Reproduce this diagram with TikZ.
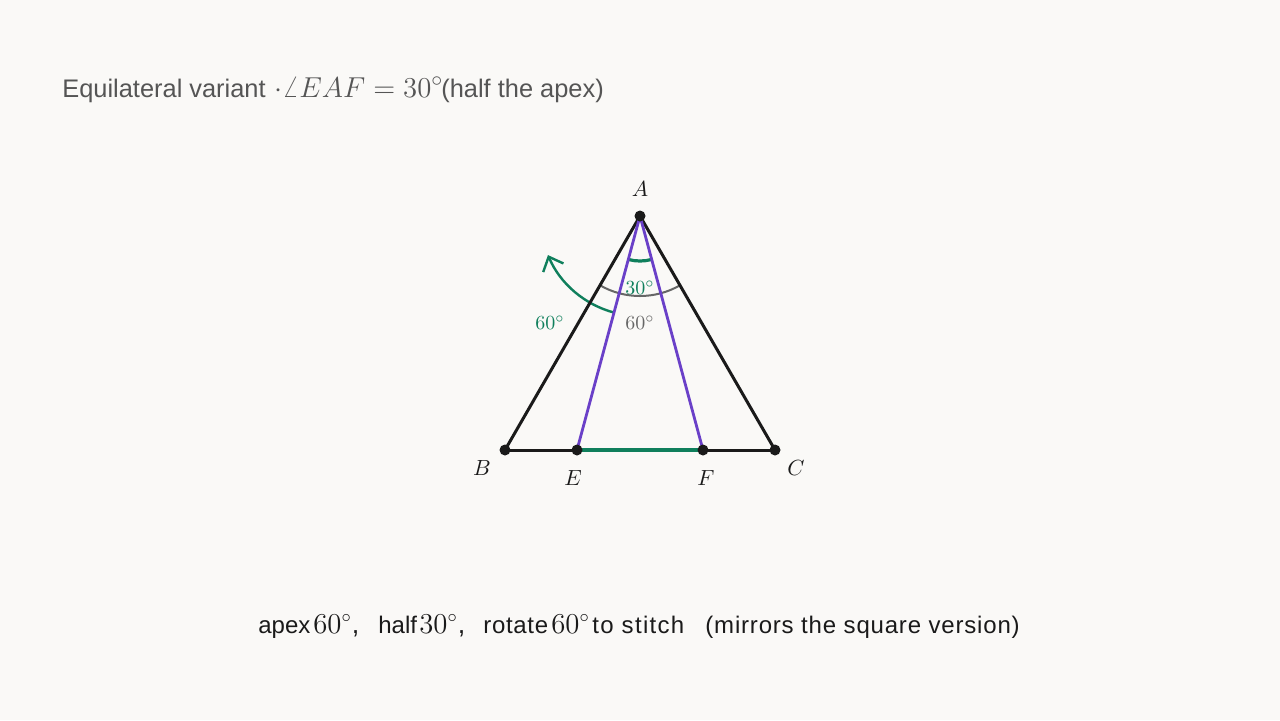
\documentclass[tikz,border=0pt]{standalone}
\usepackage[no-math]{fontspec}
\setmainfont{Liberation Sans}
\usetikzlibrary{arrows.meta}
\definecolor{bg}{HTML}{FAF9F7}
\definecolor{ink}{HTML}{1A1A1A}
\definecolor{titlegray}{HTML}{555555}
\definecolor{purp}{HTML}{6A40C8}
\definecolor{grn}{HTML}{0F7F5C}
\definecolor{arcgray}{HTML}{666666}
\tikzset{
  side/.style={draw=ink, line width=1.5pt},
  ray/.style={draw=purp, line width=1.4pt},
  base/.style={draw=grn, line width=1.7pt},
  dot/.style={circle, fill=ink, inner sep=0pt, minimum size=5.5pt},
  ptlabel/.style={font=\fontsize{11}{13}\selectfont, text=ink},
  anglab/.style={font=\fontsize{9.7}{12}\selectfont},
  titletext/.style={anchor=base west, inner sep=0pt, text=titlegray, font=\fontsize{12.7}{15}\selectfont},
  titlemath/.style={anchor=base west, inner sep=0pt, text=titlegray, font=\fontsize{15.2}{17}\selectfont},
  captext/.style={anchor=base west, inner sep=0pt, text=ink, font=\fontsize{12}{14}\selectfont},
  capmath/.style={anchor=base west, inner sep=0pt, text=ink, font=\fontsize{13.5}{15}\selectfont},
}
\begin{document}
\begin{tikzpicture}[x=0.5pt, y=-0.5pt]
\fill[bg] (0,0) rectangle (1280,720);
\useasboundingbox (0,0) rectangle (1280,720);

\coordinate (A) at (640,216);
\coordinate (B) at (505,450);
\coordinate (C) at (775,450);
\coordinate (E) at (577,450);
\coordinate (F) at (703,450);

% title
\node[titletext] (t1) at (62,97) {Equilateral variant};
\node[titlemath] (t2) at (274,97) {$\cdot\angle EAF = 30^\circ$};
\node[titletext] (t3) at (441,97) {(half the apex)};

% angle arcs
\draw[arcgray, line width=1pt] (A) ++(60:80) arc[start angle=60, end angle=120, radius=80];
\draw[grn, line width=1.6pt] (A) ++(75:45) arc[start angle=75, end angle=105, radius=45];
\draw[grn, line width=1.2pt, -{Straight Barb[length=6pt, width=11pt, line width=1.2pt]}] (A) ++(105:100) arc[start angle=105, end angle=157, radius=100];

% triangle
\draw[side] (B) -- (A) -- (C);
\draw[side] (B) -- (E);
\draw[side] (F) -- (C);
\draw[base] (E) -- (F);
\draw[ray] (A) -- (E);
\draw[ray] (A) -- (F);

\node[dot] (dA) at (A) {};
\node[dot] (dB) at (B) {};
\node[dot] (dC) at (C) {};
\node[dot] (dE) at (E) {};
\node[dot] (dF) at (F) {};

\node[ptlabel] (lA) at (640,189) {$A$};
\node[ptlabel] (lB) at (482,468) {$B$};
\node[ptlabel] (lE) at (573,478) {$E$};
\node[ptlabel] (lF) at (706,478) {$F$};
\node[ptlabel] (lC) at (796,468) {$C$};

\node[anglab, text=grn] (l30) at (640,288) {$30^\circ$};
\node[anglab, text=arcgray] (l60g) at (640,323) {$60^\circ$};
\node[anglab, text=grn] (l60r) at (550,323) {$60^\circ$};

% bottom caption
\node[captext] (c1) at (258,633) {apex};
\node[capmath] (c2) at (313,633) {$60^\circ$,};
\node[captext] (c3) at (378,633) {half};
\node[capmath] (c4) at (419,633) {$30^\circ$,};
\node[captext] (c5) at (483,633) {\addfontfeatures{LetterSpace=2.8}rotate};
\node[capmath] (c6) at (551,633) {$60^\circ$};
\node[captext] (c7) at (592,633) {\addfontfeatures{LetterSpace=5.5}to stitch};
\node[captext] (c8) at (705,633) {\addfontfeatures{LetterSpace=3.4}(mirrors the square version)};
\end{tikzpicture}
\end{document}
